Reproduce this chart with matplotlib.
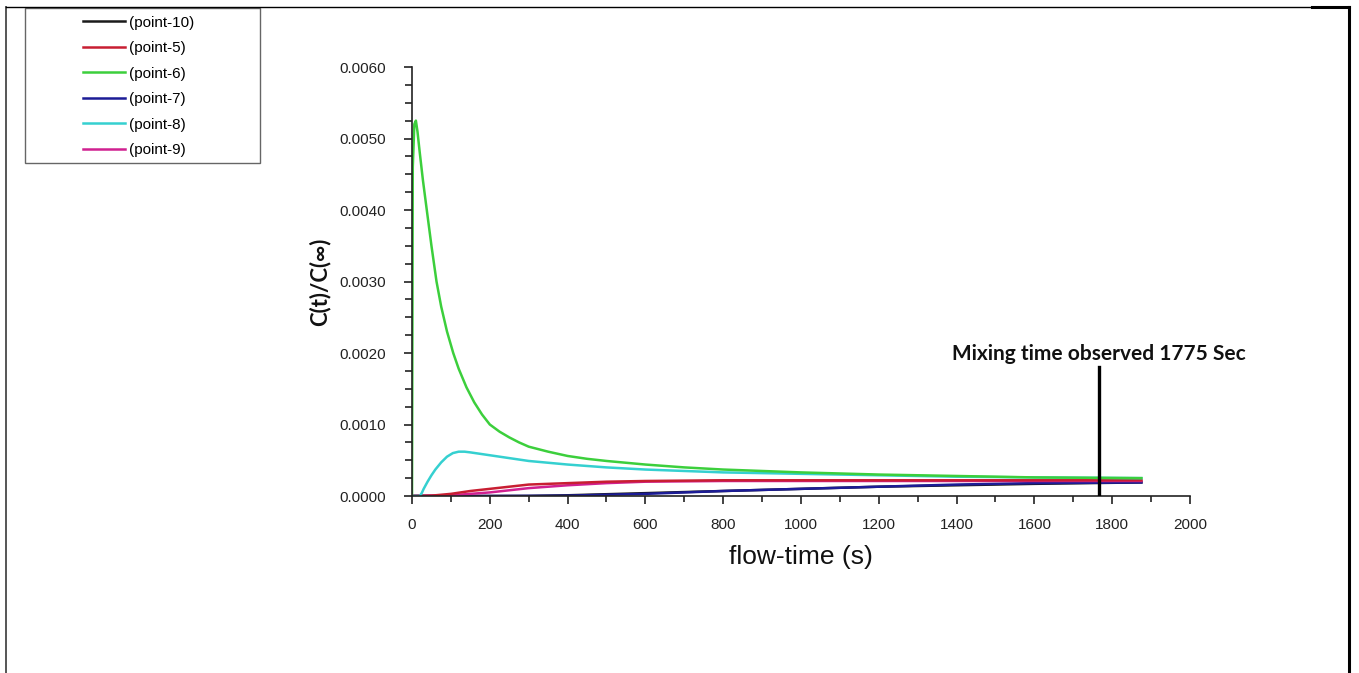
import matplotlib
matplotlib.use("Agg")
import matplotlib.pyplot as plt
from matplotlib.lines import Line2D
from matplotlib.patches import Rectangle
from matplotlib.ticker import MultipleLocator, FormatStrFormatter

# ---------------- data ----------------
t_p6 = [0, 2, 6, 10, 14, 20, 28, 38, 50, 63, 75, 90, 106, 120, 140, 160, 180,
        200, 225, 250, 275, 300, 350, 400, 450, 500, 600, 700, 800, 1000,
        1200, 1400, 1600, 1875]
c_p6 = [0.0, 0.0046, 0.0052, 0.00525, 0.0051, 0.0048, 0.00442, 0.0040, 0.0035,
        0.0030, 0.00265, 0.0023, 0.0020, 0.00178, 0.00152, 0.00131, 0.00114,
        0.00100, 0.00090, 0.00082, 0.00075, 0.00069, 0.00062, 0.00056,
        0.00052, 0.00049, 0.00044, 0.00040, 0.00037, 0.00033, 0.00030,
        0.00028, 0.00026, 0.00025]

t_p8 = [0, 20, 25, 30, 40, 50, 60, 75, 90, 105, 120, 135, 150, 175, 200, 250,
        300, 400, 500, 600, 700, 800, 1000, 1200, 1400, 1600, 1875]
c_p8 = [0.0, 0.0, 0.00004, 0.00010, 0.00020, 0.00029, 0.00037, 0.00047,
        0.00055, 0.00060, 0.00062, 0.00062, 0.00061, 0.00059, 0.00057,
        0.00053, 0.00049, 0.00044, 0.00040, 0.00037, 0.00035, 0.00033,
        0.00031, 0.00029, 0.00027, 0.00026, 0.00025]

t_p5 = [0, 50, 100, 150, 200, 250, 300, 400, 500, 600, 800, 1000, 1400, 1875]
c_p5 = [0.0, 0.000005, 0.00003, 0.00007, 0.00010, 0.00013, 0.00016, 0.00018,
        0.00020, 0.00021, 0.00022, 0.00022, 0.00022, 0.00022]

t_p9 = [0, 100, 200, 250, 300, 400, 500, 600, 800, 1000, 1400, 1875]
c_p9 = [0.0, 0.00001, 0.00005, 0.00008, 0.00011, 0.00015, 0.00018, 0.00020,
        0.00021, 0.00021, 0.00021, 0.00021]

t_p10 = [0, 300, 400, 600, 800, 1000, 1200, 1400, 1600, 1875]
c_p10 = [0.0, 0.0, 0.00001, 0.00004, 0.00007, 0.00010, 0.00013, 0.00015,
         0.00017, 0.00019]

t_p7 = [0, 200, 400, 600, 800, 1000, 1200, 1400, 1600, 1875]
c_p7 = [0.0, 0.0, 0.000005, 0.00003, 0.00007, 0.00010, 0.00013, 0.00016,
        0.00018, 0.00019]

mixing_time_x = 1765
mixing_line_top = 0.00180
mixing_label = "Mixing time observed 1775 Sec"

x_label = "flow-time (s)"
y_label = "C(t)/C(\u221e)"

series_labels = ["(point-10)", "(point-5)", "(point-6)", "(point-7)", "(point-8)", "(point-9)"]
series_colors = ["#1a1a1a", "#c81e32", "#3ccf3c", "#1c1c96", "#35d0d0", "#d02090"]

# ---------------- figure ----------------
W, H = 1359, 673
fig = plt.figure(figsize=(W / 100, H / 100), dpi=100)
fig.patch.set_facecolor("white")

ax = fig.add_axes([412 / W, (H - 496) / H, (1190 - 412) / W, (496 - 67) / H])

data = {
    "(point-10)": (t_p10, c_p10),
    "(point-5)": (t_p5, c_p5),
    "(point-6)": (t_p6, c_p6),
    "(point-7)": (t_p7, c_p7),
    "(point-8)": (t_p8, c_p8),
    "(point-9)": (t_p9, c_p9),
}
draw_order = ["(point-10)", "(point-7)", "(point-9)", "(point-5)", "(point-8)", "(point-6)"]
for lab in draw_order:
    t, c = data[lab]
    col = series_colors[series_labels.index(lab)]
    ax.plot(t, c, color=col, lw=1.8, solid_joinstyle="round")

ax.plot([mixing_time_x, mixing_time_x], [0, mixing_line_top], color="black", lw=2.4, zorder=5)
ax.text(mixing_time_x, mixing_line_top + 0.00004, mixing_label, ha="center", va="bottom",
        fontfamily="Lato", fontweight="bold", fontsize=15, color="#111111")

ax.set_xlim(0, 2000)
ax.set_ylim(0, 0.006)
ax.xaxis.set_major_locator(MultipleLocator(200))
ax.xaxis.set_minor_locator(MultipleLocator(100))
ax.yaxis.set_major_locator(MultipleLocator(0.001))
ax.yaxis.set_minor_locator(MultipleLocator(0.00025))
ax.yaxis.set_major_formatter(FormatStrFormatter("%.4f"))

for s in ["top", "right"]:
    ax.spines[s].set_visible(False)
for s in ["left", "bottom"]:
    ax.spines[s].set_linewidth(1.2)
    ax.spines[s].set_color("#222222")

ax.tick_params(axis="y", which="major", direction="out", length=6, width=1.2, pad=13,
               labelsize=11, colors="#222222")
ax.tick_params(axis="y", which="minor", direction="out", length=5, width=1.2, colors="#222222")
ax.tick_params(axis="x", which="major", direction="out", length=6, width=1.2, pad=9.5,
               labelsize=11, colors="#222222")
ax.tick_params(axis="x", which="minor", direction="out", length=4, width=1.2, colors="#222222")
for lbl in ax.get_xticklabels() + ax.get_yticklabels():
    lbl.set_fontfamily("Liberation Sans")

ax.set_xlabel(x_label, fontfamily="Liberation Sans", fontsize=19, labelpad=10, color="#111111")
ax.set_ylabel(y_label, fontfamily=["Lato", "DejaVu Sans"], fontweight="bold", fontsize=16,
              labelpad=6, color="#111111")

# ---------------- legend (boxed at top-left) ----------------
handles = [Line2D([], [], color=c, lw=1.8) for c in series_colors]
fig.legend(handles, series_labels, loc="upper left", bbox_to_anchor=(72 / W, 1 - 5 / H),
           frameon=False, prop={"family": "Liberation Sans", "size": 11},
           handlelength=2.8, handletextpad=0.2, labelspacing=0.75, borderpad=0.2)
fig.patches.append(Rectangle((25 / W, 1 - 163 / H), (260 - 25) / W, (163 - 8) / H,
                             transform=fig.transFigure, fill=False, edgecolor="#666666", lw=1.0))

# ---------------- page frame ----------------
fig.add_artist(Line2D([6 / W, 6 / W], [0, 1 - 7 / H], transform=fig.transFigure,
                      color="#555555", lw=1.4))
fig.add_artist(Line2D([6 / W, 1312 / W], [1 - 7 / H, 1 - 7 / H], transform=fig.transFigure,
                      color="black", lw=1.0))
fig.add_artist(Line2D([1312 / W, 1349 / W], [1 - 7 / H, 1 - 7 / H], transform=fig.transFigure,
                      color="black", lw=2.2))
fig.add_artist(Line2D([1349 / W, 1349 / W], [0, 1 - 7 / H], transform=fig.transFigure,
                      color="black", lw=2.2))

fig.savefig("out.png", dpi=100, facecolor="white")
